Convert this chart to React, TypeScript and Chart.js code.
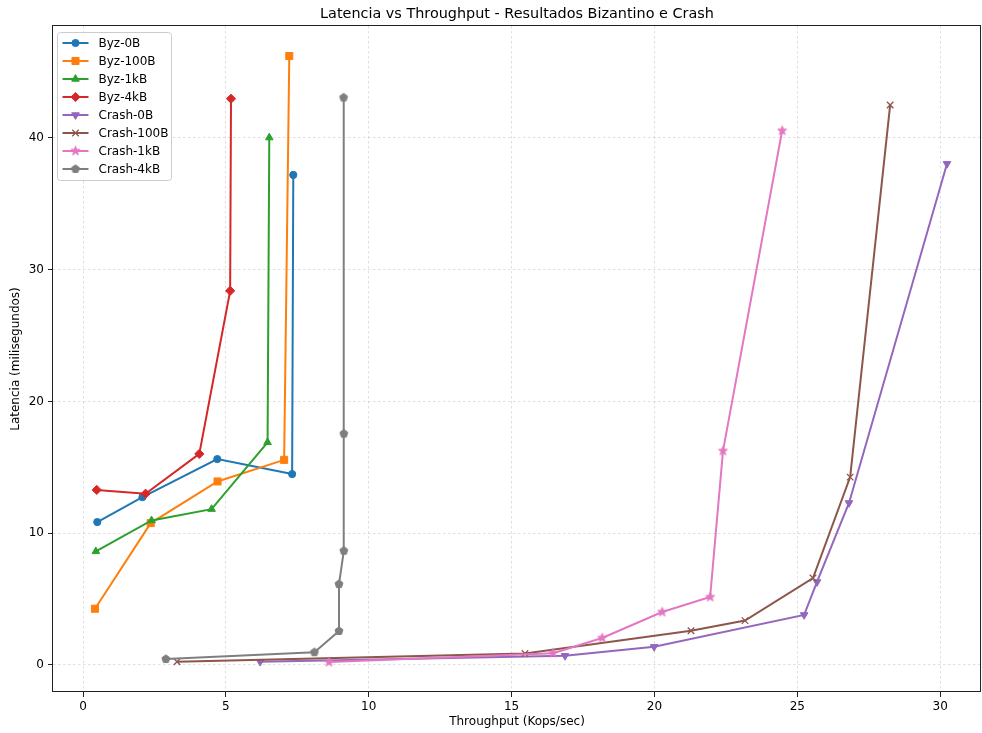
import React, { useEffect, useRef } from 'react';
import { Chart, registerables } from 'chart.js';

Chart.register(...registerables);

// ---- Data ----
const seriesNames = ['Byz-0B', 'Byz-100B', 'Byz-1kB', 'Byz-4kB', 'Crash-0B', 'Crash-100B', 'Crash-1kB', 'Crash-4kB'];

const byz0bX = [0.50, 2.08, 4.70, 7.32, 7.36];
const byz0bY = [10.85, 12.74, 15.63, 14.49, 37.2];

const byz100bX = [0.42, 2.37, 4.71, 7.04, 7.22];
const byz100bY = [4.27, 10.77, 13.93, 15.57, 46.22];

const byz1kbX = [0.45, 2.40, 4.50, 6.46, 6.52];
const byz1kbY = [8.62, 10.97, 11.83, 16.9, 40.03];

const byz4kbX = [0.48, 2.19, 4.07, 5.15, 5.18];
const byz4kbY = [13.29, 13.0, 16.02, 28.4, 42.98];

const crash0bX = [6.2, 16.87, 19.99, 25.24, 25.69, 26.81, 30.24];
const crash0bY = [0.25, 0.7, 1.38, 3.8, 6.3, 12.3, 38.04];

const crash100bX = [3.29, 15.47, 21.28, 23.17, 25.55, 26.85, 28.25];
const crash100bY = [0.25, 0.87, 2.6, 3.37, 6.6, 14.26, 42.5];

const crash1kbX = [8.61, 16.45, 18.17, 20.27, 21.95, 22.4, 24.47];
const crash1kbY = [0.22, 0.9, 2.05, 4.02, 5.16, 16.25, 40.55];

const crash4kbX = [2.9, 8.1, 8.96, 8.96, 9.13, 9.13, 9.12];
const crash4kbY = [0.45, 0.97, 2.58, 6.14, 8.67, 17.56, 43.07];

const seriesX = [byz0bX, byz100bX, byz1kbX, byz4kbX, crash0bX, crash100bX, crash1kbX, crash4kbX];
const seriesY = [byz0bY, byz100bY, byz1kbY, byz4kbY, crash0bY, crash100bY, crash1kbY, crash4kbY];

const xTicks = [0, 5, 10, 15, 20, 25, 30];
const yTicks = [0, 10, 20, 30, 40];

const titleText = 'Latencia vs Throughput - Resultados Bizantino e Crash';
const xLabel = 'Throughput (Kops/sec)';
const yLabel = 'Latencia (milisegundos)';

// ---- Styles ----
const colors = ['#1f77b4', '#ff7f0e', '#2ca02c', '#d62728', '#9467bd', '#8c564b', '#e377c2', '#7f7f7f'];
const FONT = "'DejaVu Sans', 'Liberation Sans', sans-serif";
const GRID_COLOR = 'rgba(176,176,176,0.5)';

function makePolyCanvas(color: string, points: number, outer: number, inner: number | null) {
  const size = Math.ceil(outer * 2 + 3);
  const c = document.createElement('canvas');
  c.width = size;
  c.height = size;
  const ctx = c.getContext('2d')!;
  const cx = size / 2, cy = size / 2;
  ctx.beginPath();
  const n = inner === null ? points : points * 2;
  for (let i = 0; i < n; i++) {
    const r = inner === null ? outer : (i % 2 === 0 ? outer : inner);
    const a = -Math.PI / 2 + (i * 2 * Math.PI) / n;
    const px = cx + r * Math.cos(a);
    const py = cy + r * Math.sin(a);
    if (i === 0) ctx.moveTo(px, py); else ctx.lineTo(px, py);
  }
  ctx.closePath();
  ctx.fillStyle = color;
  ctx.fill();
  ctx.lineWidth = 1;
  ctx.strokeStyle = color;
  ctx.lineJoin = 'round';
  ctx.stroke();
  return c;
}

function drawMarker(ctx: CanvasRenderingContext2D, style: any, x: number, y: number, r: number, rotation: number, color: string, bw: number) {
  ctx.save();
  ctx.fillStyle = color;
  ctx.strokeStyle = color;
  ctx.lineWidth = bw;
  if (typeof style !== 'string') {
    ctx.drawImage(style, x - style.width / 2, y - style.height / 2);
    ctx.restore();
    return;
  }
  let rad = (rotation * Math.PI) / 180;
  ctx.beginPath();
  if (style === 'circle') {
    ctx.arc(x, y, r, 0, Math.PI * 2);
    ctx.closePath();
  } else if (style === 'rect') {
    const s = r * Math.SQRT1_2;
    ctx.rect(x - s, y - s, 2 * s, 2 * s);
  } else if (style === 'triangle') {
    ctx.moveTo(x + Math.sin(rad) * r, y - Math.cos(rad) * r);
    rad += (2 * Math.PI) / 3;
    ctx.lineTo(x + Math.sin(rad) * r, y - Math.cos(rad) * r);
    rad += (2 * Math.PI) / 3;
    ctx.lineTo(x + Math.sin(rad) * r, y - Math.cos(rad) * r);
    ctx.closePath();
  } else if (style === 'rectRot') {
    ctx.moveTo(x, y - r);
    ctx.lineTo(x + r, y);
    ctx.lineTo(x, y + r);
    ctx.lineTo(x - r, y);
    ctx.closePath();
  } else if (style === 'crossRot') {
    const o = r * Math.SQRT1_2;
    ctx.moveTo(x - o, y - o);
    ctx.lineTo(x + o, y + o);
    ctx.moveTo(x - o, y + o);
    ctx.lineTo(x + o, y - o);
  }
  if (style !== 'crossRot') ctx.fill();
  ctx.stroke();
  ctx.restore();
}

const customPlugin = {
  id: 'mplLook',
  afterDatasetsDraw(chart: any) {
    const ctx = chart.ctx as CanvasRenderingContext2D;
    const { left, top, right, bottom } = chart.chartArea;
    ctx.save();
    ctx.strokeStyle = '#222';
    ctx.lineWidth = 1;
    ctx.setLineDash([]);
    ctx.strokeRect(Math.round(left) - 0.5, Math.round(top) - 0.5, Math.round(right - left), Math.round(bottom - top));
    ctx.restore();
  },
  afterDraw(chart: any) {
    const ctx = chart.ctx as CanvasRenderingContext2D;
    const { left, top, right, bottom } = chart.chartArea;
    ctx.save();
    // Title
    ctx.fillStyle = '#000';
    ctx.font = `14.4px ${FONT}`;
    ctx.textAlign = 'center';
    ctx.textBaseline = 'middle';
    ctx.fillText(titleText, (left + right) / 2, 14);
    // Axis labels
    ctx.font = `12px ${FONT}`;
    ctx.fillText(xLabel, (left + right) / 2, 722);
    ctx.save();
    ctx.translate(16, (top + bottom) / 2);
    ctx.rotate(-Math.PI / 2);
    ctx.fillText(yLabel, 0, 0);
    ctx.restore();

    // Legend
    const bx = left + 4.5, by = top + 6.5, bw = 114, bh = 148;
    const rr = 3;
    ctx.beginPath();
    ctx.moveTo(bx + rr, by);
    ctx.lineTo(bx + bw - rr, by);
    ctx.quadraticCurveTo(bx + bw, by, bx + bw, by + rr);
    ctx.lineTo(bx + bw, by + bh - rr);
    ctx.quadraticCurveTo(bx + bw, by + bh, bx + bw - rr, by + bh);
    ctx.lineTo(bx + rr, by + bh);
    ctx.quadraticCurveTo(bx, by + bh, bx, by + bh - rr);
    ctx.lineTo(bx, by + rr);
    ctx.quadraticCurveTo(bx, by, bx + rr, by);
    ctx.closePath();
    ctx.fillStyle = 'rgba(255,255,255,0.8)';
    ctx.fill();
    ctx.strokeStyle = '#cccccc';
    ctx.lineWidth = 1;
    ctx.stroke();

    chart.data.datasets.forEach((ds: any, i: number) => {
      const cy = by + 10.5 + i * 18;
      ctx.beginPath();
      ctx.moveTo(bx + 5, cy);
      ctx.lineTo(bx + 31, cy);
      ctx.strokeStyle = ds.borderColor;
      ctx.lineWidth = 2;
      ctx.stroke();
      drawMarker(ctx, ds.pointStyle, bx + 18, cy, ds.pointRadius, ds.pointRotation || 0, ds.borderColor, ds.pointBorderWidth);
      ctx.fillStyle = '#000';
      ctx.font = `12px ${FONT}`;
      ctx.textAlign = 'left';
      ctx.textBaseline = 'middle';
      ctx.fillText(ds.label, bx + 41, cy + 0.5);
    });
    ctx.restore();
  },
};

export default function App() {
  const ref = useRef<HTMLCanvasElement | null>(null);

  useEffect(() => {
    document.body.style.margin = '0';
    const canvas = ref.current;
    if (!canvas) return;

    const pointStyles: any[] = [
      'circle', 'rect', 'triangle', 'rectRot', 'triangle', 'crossRot',
      makePolyCanvas(colors[6], 5, 4.8, 2.0),
      makePolyCanvas(colors[7], 5, 4.2, null),
    ];
    const radii = [3.6, 5.0, 4.4, 4.6, 4.4, 4.6, 4, 4];
    const rotations = [0, 0, 0, 0, 180, 0, 0, 0];
    const borderWidths = [1, 1, 1, 1, 1, 1.3, 1, 1];

    const datasets = seriesNames.map((name, i) => ({
      label: name,
      data: seriesX[i].map((x, j) => ({ x, y: seriesY[i][j] })),
      borderColor: colors[i],
      backgroundColor: colors[i],
      borderWidth: 2,
      pointStyle: pointStyles[i],
      pointRadius: radii[i],
      pointRotation: rotations[i],
      pointBorderWidth: borderWidths[i],
      pointBorderColor: colors[i],
      pointBackgroundColor: colors[i],
      tension: 0,
      fill: false,
      order: seriesNames.length - i,
    }));

    const gridOpts = {
      color: GRID_COLOR,
      lineWidth: 0.8,
      tickColor: '#222',
      tickLength: 5,
      tickWidth: 1,
      tickBorderDash: [],
    };

    const chart = new Chart(canvas, {
      type: 'line',
      data: { datasets },
      plugins: [customPlugin],
      options: {
        animation: false,
        responsive: false,
        devicePixelRatio: 1,
        layout: { autoPadding: false, padding: { top: 26, right: 1, left: 0, bottom: 0 } },
        plugins: {
          legend: { display: false },
          title: { display: false },
          tooltip: { enabled: false },
        },
        scales: {
          x: {
            type: 'linear',
            min: -1.05,
            max: 31.43,
            afterFit: (s: any) => {
              s.height = 41;
              s.paddingLeft = 0;
              s.paddingRight = 0;
              s.paddingTop = 0;
              s.paddingBottom = 0;
            },
            afterBuildTicks: (s: any) => { s.ticks = xTicks.map((v) => ({ value: v })); },
            ticks: { color: '#000', font: { family: FONT, size: 12 }, padding: 3, maxRotation: 0 },
            grid: gridOpts,
            border: { display: false, dash: [2.5, 2.5] },
          },
          y: {
            type: 'linear',
            min: -2.05,
            max: 48.5,
            afterFit: (s: any) => {
              s.width = 53;
              s.paddingLeft = 0;
              s.paddingRight = 0;
              s.paddingTop = 0;
              s.paddingBottom = 0;
            },
            afterBuildTicks: (s: any) => { s.ticks = yTicks.map((v) => ({ value: v })); },
            ticks: { color: '#000', font: { family: FONT, size: 12 }, padding: 4 },
            grid: gridOpts,
            border: { display: false, dash: [2.5, 2.5] },
          },
        },
      } as any,
    });

    return () => chart.destroy();
  }, []);

  return (
    <div style={{ width: 982, height: 733, position: 'relative' }}>
      <canvas ref={ref} width={982} height={733} style={{ display: 'block', width: 982, height: 733 }} />
    </div>
  );
}
